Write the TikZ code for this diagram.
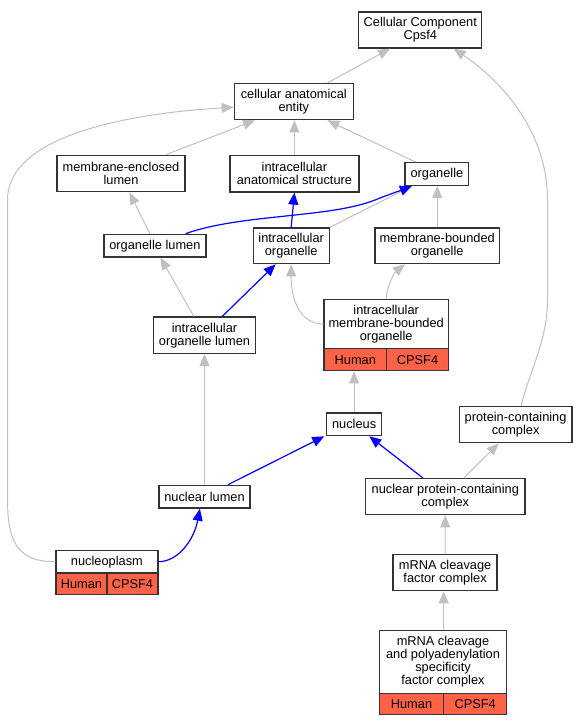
\documentclass[tikz,border=0pt]{standalone}
\usepackage{fontspec}
\setmainfont{Liberation Sans}
\usetikzlibrary{arrows.meta,calc}
\definecolor{tomato}{HTML}{FF6347}
\definecolor{edgegray}{HTML}{C0C0C0}
\begin{document}
\begin{tikzpicture}[x=1pt,y=-1pt,
 box/.style={draw=black!80, line width=1.3pt, fill=white, inner sep=0pt, align=center, font=\fontsize{12.8}{13}\selectfont},
 cell/.style={box, fill=tomato},
 isa/.style={draw=edgegray, line width=1pt, -{Triangle[length=12pt,width=10pt]}},
 partof/.style={draw=blue, line width=1.2pt, -{Triangle[length=12pt,width=10pt]}},
]
\useasboundingbox (0,0) rectangle (585,725);
\node[box, minimum width=123pt, minimum height=36pt] (cc) at (420.3,30) {Cellular Component\\Cpsf4};
\node[box, minimum width=119pt, minimum height=36pt] (cae) at (293.8,101.7) {cellular anatomical\\entity};
\node[box, minimum width=128pt, minimum height=36.5pt] (mel) at (121,173.5) {membrane-enclosed\\lumen};
\node[box, minimum width=129pt, minimum height=36.3pt] (ias) at (294.4,173.8) {intracellular\\anatomical structure};
\node[box, minimum width=63.7pt, minimum height=22.7pt] (org) at (436.9,174) {organelle};
\node[box, minimum width=102pt, minimum height=22.7pt] (ol) at (154.9,245.7) {organelle lumen};
\node[box, minimum width=76pt, minimum height=35.7pt] (io) at (291.2,245.8) {intracellular\\organelle};
\node[box, minimum width=124.5pt, minimum height=35.7pt] (mbo) at (437.2,245.8) {membrane-bounded\\organelle};
\node[box, minimum width=101.6pt, minimum height=36.3pt] (iol) at (204.5,335.2) {intracellular\\organelle lumen};
\node[box, minimum width=124.4pt, minimum height=49.4pt] (imbotop) at (386.2,324) {intracellular\\membrane-bounded\\organelle};
\node[cell, minimum width=62.6pt, minimum height=22pt] (imbohuman) at (355.3,359.7) {Human};
\node[cell, minimum width=61.8pt, minimum height=22pt] (imbocpsf) at (417.5,359.7) {CPSF4};
\node[box, minimum width=55pt, minimum height=22.7pt] (nuc) at (354.1,424.3) {nucleus};
\node[box, minimum width=112.5pt, minimum height=36.3pt] (pcc) at (515.6,424.5) {protein-containing\\complex};
\node[box, minimum width=91pt, minimum height=22.7pt] (nl) at (204.5,496.7) {nuclear lumen};
\node[box, minimum width=159.4pt, minimum height=36pt] (npcc) at (445.3,496.7) {nuclear protein-containing\\complex};
\node[box, minimum width=102pt, minimum height=22.7pt] (nptop) at (106.9,561.7) {nucleoplasm};
\node[cell, minimum width=51pt, minimum height=21.3pt] (nphuman) at (81.4,583.7) {Human};
\node[cell, minimum width=51pt, minimum height=21.3pt] (npcpsf) at (132.4,583.7) {CPSF4};
\node[box, minimum width=104pt, minimum height=36.3pt] (mcfc) at (445.1,572.5) {mRNA cleavage\\factor complex};
\node[box, minimum width=127.4pt, minimum height=62.6pt] (mcpsftop) at (443,662) {mRNA cleavage\\and polyadenylation\\specificity\\factor complex};
\node[cell, minimum width=64.4pt, minimum height=21.4pt] (mcpsfhuman) at (411.5,704) {Human};
\node[cell, minimum width=63pt, minimum height=21.4pt] (mcpsfcpsf) at (475.2,704) {CPSF4};

\draw[isa] ($(cae.north)+(33.5,0)$) -- ($(cc.south)+(-30.3,0)$);
\draw[isa] ($(pcc.north)+(5.5,0)$) .. controls (530,370) and (547.5,340) .. (547.5,300) -- (547.5,200) .. controls (547.5,130) and (500,80) .. ($(cc.south)+(33.4,0)$);
\draw[isa] (nptop.west) .. controls (20,561.7) and (7.5,545) .. (7.5,500) -- (7.5,200) .. controls (7.5,130) and (150,112) .. ($(cae.west)+(0,5.6)$);
\draw[isa] ($(mel.north)+(45,0)$) -- ($(cae.south)+(-38.8,0)$);
\draw[isa] (ias.north) -- (ias.north |- cae.south);
\draw[isa] ($(org.north)+(-21.4,0)$) -- ($(cae.south)+(33.5,0)$);
\draw[isa] ($(ol.north)+(-4.9,0)$) -- ($(mel.south)+(8.4,0)$);
\draw[isa] (io.north east) -- ($(org.south west)+(7.5,0)$);
\draw[partof] ($(ol.north)+(30.7,0)$) .. controls (240,214) and (330,218) .. (375,200) .. controls (390,194) and (402,190) .. ($(org.south west)+(7.5,0)$);
\draw[partof] (io.north) -- (ias.south);
\draw[isa] (mbo.north) -- (mbo.north |- org.south);
\draw[isa] ($(iol.north)+(-10.6,0)$) -- ($(ol.south)+(5.6,0)$);
\draw[partof] ($(iol.north)+(17.8,0)$) -- ($(io.south)+(-15.6,0)$);
\draw[isa] (imbotop.west) .. controls (300,324) and (291,300) .. (io.south);
\draw[isa] (imbotop.north) .. controls (387,285) and (395,272) .. ($(mbo.south)+(-32.2,0)$);
\draw[isa] (nuc.north) -- (nuc.north |- imbohuman.south);
\draw[isa] (nl.north) -- (iol.south);
\draw[partof] ($(nl.north)+(23.5,0)$) -- ($(nuc.south)+(-29.8,0)$);
\draw[partof] ($(npcc.north)+(-22.3,0)$) -- ($(nuc.south)+(15.2,0)$);
\draw[isa] ($(npcc.north)+(18.5,0)$) -- ($(pcc.south)+(-16.9,0)$);
\draw[partof] (nptop.east) .. controls (178,561.7) and (194,540) .. ($(nl.south)+(-4.6,0)$);
\draw[isa] (mcfc.north) -- (npcc.south);
\draw[isa] ($(mcpsftop.north)+(0.7,0)$) -- ($(mcpsftop.north |- mcfc.south)+(0.7,0)$);
\end{tikzpicture}
\end{document}
